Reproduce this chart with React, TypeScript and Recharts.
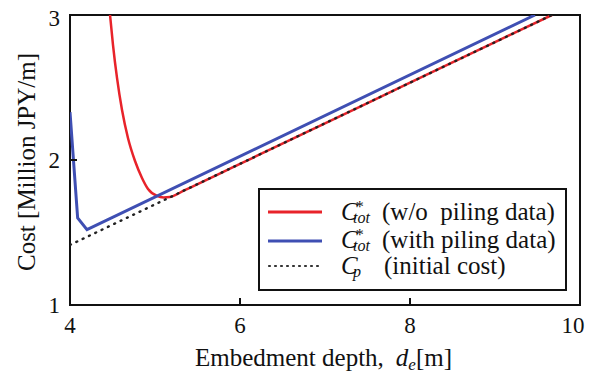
import React from 'react';
import { LineChart, Line, XAxis, YAxis, ReferenceArea, Legend } from 'recharts';

const xTicks = [4, 6, 8, 10];
const yTicks = [1, 2, 3];

const redDepth = [4.471, 4.506, 4.553, 4.612, 4.682, 4.765, 4.847, 4.918, 5.024, 5.1, 5.176, 5.35, 6.0, 7.0, 8.0, 9.0, 9.67];
const redCost = [3.0, 2.793, 2.566, 2.345, 2.152, 1.993, 1.876, 1.8, 1.752, 1.742, 1.745, 1.792, 1.973, 2.253, 2.533, 2.813, 3.0];

const blueDepth = [4.0, 4.09, 4.2, 9.47];
const blueCost = [2.33, 1.6, 1.52, 3.0];

const cpDepth = [4.0, 9.67];
const cpCost = [1.414, 3.0];

const toRows = (xs: number[], ys: number[]) => xs.map((d, i) => ({ depth: d, cost: ys[i] }));
const redData = toRows(redDepth, redCost);
const blueData = toRows(blueDepth, blueCost);
const cpData = toRows(cpDepth, cpCost);

const RED = '#e8232a';
const BLUE = '#3f4fb3';
const INK = '#111';
const FONT = '"Liberation Serif", "Times New Roman", serif';

const XTick = (props: any) => {
  const { x, y, payload } = props;
  const v = payload.value;
  const inner = v !== xTicks[0] && v !== xTicks[xTicks.length - 1];
  const dx = v === xTicks[xTicks.length - 1] ? -7 : 0;
  return (
    <g>
      {inner && <line x1={x} y1={y} x2={x} y2={y - 7} stroke={INK} strokeWidth={2} />}
      <text x={x + dx} y={y + 28} textAnchor="middle" fontSize={23} fontFamily={FONT} fill={INK}>
        {v}
      </text>
    </g>
  );
};

const YTick = (props: any) => {
  const { x, y, payload } = props;
  const v = payload.value;
  const inner = v !== yTicks[0] && v !== yTicks[yTicks.length - 1];
  const dy = v === yTicks[yTicks.length - 1] ? 11 : 8;
  return (
    <g>
      {inner && <line x1={x} y1={y} x2={x + 7} y2={y} stroke={INK} strokeWidth={2} />}
      <text x={x - 10} y={y + dy} textAnchor="end" fontSize={23} fontFamily={FONT} fill={INK}>
        {v}
      </text>
    </g>
  );
};

const YLabel = (props: any) => {
  const vb = props.viewBox || { x: 10, y: 16, width: 60, height: 289 };
  const cx = vb.x + 25;
  const cy = vb.y + vb.height / 2 + 2;
  return (
    <text
      transform={`translate(${cx},${cy}) rotate(-90)`}
      textAnchor="middle"
      fontSize={25}
      fontFamily={FONT}
      fill={INK}
    >
      Cost [Million JPY/m]
    </text>
  );
};

const XLabel = (props: any) => {
  const vb = props.viewBox || { x: 70, y: 305, width: 510, height: 73 };
  return (
    <text x={195} y={vb.y + 61} fontSize={25} fontFamily={FONT} fill={INK}>
      <tspan>Embedment depth,</tspan>
      <tspan fontStyle="italic" dx={12}>d</tspan>
      <tspan fontStyle="italic" fontSize={17} dy={4}>e</tspan>
      <tspan dy={-4}>[m]</tspan>
    </text>
  );
};

const LegendBox = () => (
  <svg width={309} height={103} style={{ display: 'block' }} fontFamily={FONT}>
    <rect x={1} y={1} width={307} height={101} fill="#fff" stroke={INK} strokeWidth={2} />
    <line x1={10} x2={64} y1={24} y2={24} stroke={RED} strokeWidth={3} />
    <line x1={10} x2={64} y1={53} y2={53} stroke={BLUE} strokeWidth={3} />
    <line x1={11} x2={64} y1={78} y2={78} stroke="#333" strokeWidth={2.2} strokeDasharray="1 5" strokeLinecap="round" />

    <text x={83} y={32} fontSize={25} fill={INK} style={{ whiteSpace: 'pre' }}>
      <tspan fontStyle="italic">C</tspan>
      <tspan fontSize={16} dx={-2} dy={-8}>*</tspan>
      <tspan fontSize={16} fontStyle="italic" x={95} dy={11}>tot</tspan>
      <tspan x={124} dy={-3}>(w/o  piling data)</tspan>
    </text>

    <text x={83} y={60} fontSize={25} fill={INK}>
      <tspan fontStyle="italic">C</tspan>
      <tspan fontSize={16} dx={-2} dy={-8}>*</tspan>
      <tspan fontSize={16} fontStyle="italic" x={95} dy={11}>tot</tspan>
      <tspan x={124} dy={-3}>(with piling data)</tspan>
    </text>

    <text x={83} y={86} fontSize={25} fill={INK}>
      <tspan fontStyle="italic">C</tspan>
      <tspan fontSize={16} fontStyle="italic" x={95} dy={3}>p</tspan>
      <tspan x={126} dy={-3}>(initial cost)</tspan>
    </text>
  </svg>
);

export default function App() {
  return (
    <div style={{ position: 'absolute', left: 0, top: 0, width: 603, height: 378, background: '#fff' }}>
      <LineChart width={603} height={378} margin={{ top: 15, right: 23, bottom: 0, left: 10 }}>
        <XAxis
          type="number"
          dataKey="depth"
          domain={[4, 10]}
          ticks={xTicks}
          allowDataOverflow
          axisLine={false}
          tickLine={false}
          tickSize={0}
          tickMargin={0}
          height={73}
          tick={<XTick />}
          label={<XLabel />}
        />
        <YAxis
          type="number"
          dataKey="cost"
          domain={[1, 3]}
          ticks={yTicks}
          allowDataOverflow
          axisLine={false}
          tickLine={false}
          tickSize={0}
          tickMargin={0}
          width={60}
          tick={<YTick />}
          label={<YLabel />}
        />
        <ReferenceArea x1={4} x2={10} y1={1} y2={3} fill="none" stroke={INK} strokeWidth={2} ifOverflow="visible" />
        <Line
          data={redData}
          dataKey="cost"
          type="monotone"
          stroke={RED}
          strokeWidth={2.5}
          dot={false}
          activeDot={false}
          isAnimationActive={false}
        />
        <Line
          data={cpData}
          dataKey="cost"
          type="linear"
          stroke="#222"
          strokeWidth={2.4}
          strokeDasharray="1 6"
          strokeLinecap="round"
          dot={false}
          activeDot={false}
          isAnimationActive={false}
        />
        <Line
          data={blueData}
          dataKey="cost"
          type="linear"
          stroke={BLUE}
          strokeWidth={3}
          dot={false}
          activeDot={false}
          isAnimationActive={false}
        />
        <Legend
          layout="vertical"
          align="center"
          verticalAlign="middle"
          content={<LegendBox />}
          wrapperStyle={{ left: 258, top: 188, width: 309, height: 103 }}
        />
      </LineChart>
    </div>
  );
}
